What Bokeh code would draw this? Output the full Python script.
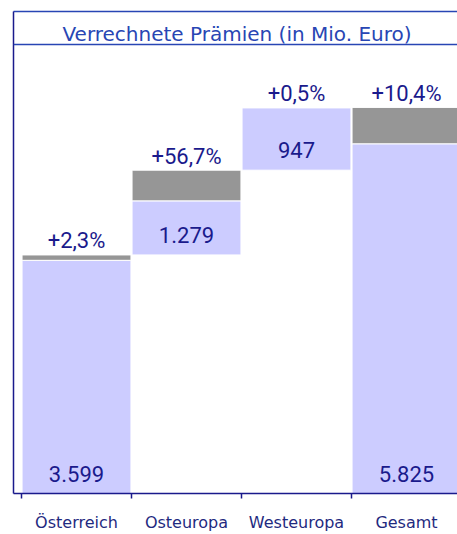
from bokeh.plotting import figure
from bokeh.models import (ColumnDataSource, Range1d, FixedTicker, LinearAxis,
                          Label, Span)
from bokeh.core.properties import value
from bokeh.embed import file_html
from bokeh.resources import INLINE

# ---- data ----
categories = ["Österreich", "Osteuropa", "Westeuropa", "Gesamt"]
current = [3599, 1279, 947, 5825]          # Mio. Euro, current year
prior = [3518, 816, 942, 5276]             # Mio. Euro, previous year
growth_labels = ["+2,3%", "+56,7%", "+0,5%", "+10,4%"]
title_text = "Verrechnete Prämien (in Mio. Euro)"

# ---- derived layout from data ----
n = len(categories)
xs = [i + 0.5 for i in range(n)]
bases = []
run = 0
for i, v in enumerate(current):
    if i == n - 1:
        bases.append(0)
    else:
        bases.append(run)
        run += v
blue_top = [b + p for b, p in zip(bases, prior)]
gray_top = [b + c for b, c in zip(bases, current)]
value_labels = [f"{v:,}".replace(",", ".") for v in current]

src = ColumnDataSource(dict(x=xs, base=bases, btop=blue_top, gtop=gray_top,
                            vlab=value_labels, glab=growth_labels))

BLUE_FILL = "#CCCCFF"
GRAY_FILL = "#969696"
NAVY = "#1a1a8c"
TITLE_BLUE = "#2846b4"
NUM_FONT = "Roboto"
NUM_SIZE = "22px"

px_per_unit = 110.0
frame_left, frame_top, frame_bottom = 13, 11, 500
W, H = 457, 534
frame_w, frame_h = W - frame_left, frame_bottom - frame_top
x_start = -8 / px_per_unit
x_end = x_start + frame_w / px_per_unit
y_end = 5825 * frame_h / 391.7

p = figure(width=W, height=H, output_backend="svg", toolbar_location=None,
           x_range=Range1d(x_start, x_end), y_range=Range1d(0, y_end),
           min_border_left=frame_left, min_border_right=0,
           min_border_top=frame_top, min_border_bottom=H - frame_bottom)
p.outline_line_color = None
p.grid.visible = False
p.background_fill_color = "white"
p.border_fill_color = "white"

# bars
p.vbar(x="x", bottom="base", top="btop", width=0.99, source=src,
       fill_color=BLUE_FILL, line_color="white", line_width=1)
p.vbar(x="x", bottom="btop", top="gtop", width=0.99, source=src,
       fill_color=GRAY_FILL, line_color="white", line_width=1)

# labels
p.text(x="x", y="base", text="vlab", source=src, text_align="center",
       text_baseline="alphabetic", y_offset=-20,
       text_font=value(NUM_FONT), text_font_size=NUM_SIZE,
       text_color=NAVY)
p.text(x="x", y="gtop", text="glab", source=src, text_align="center",
       text_baseline="alphabetic", y_offset=-14,
       text_font=value(NUM_FONT), text_font_size=NUM_SIZE,
       text_color=NAVY)

# axes
xa = p.xaxis[0]
xa.ticker = FixedTicker(ticks=xs, minor_ticks=list(range(n + 1)))
xa.major_label_overrides = {x: c for x, c in zip(xs, categories)}
xa.major_tick_out = 0
xa.major_tick_in = 0
xa.minor_tick_out = 5
xa.minor_tick_in = 0
xa.minor_tick_line_color = NAVY
xa.minor_tick_line_width = 1.5
xa.axis_line_color = NAVY
xa.axis_line_width = 1.5
xa.major_label_standoff = 14
xa.major_label_text_font = "DejaVu Sans"
xa.major_label_text_font_size = "16px"
xa.major_label_text_color = "#1f2a80"

ya = p.yaxis[0]
ya.ticker = FixedTicker(ticks=[])
ya.axis_line_color = NAVY
ya.axis_line_width = 1.5
ya.major_tick_out = 0
ya.major_tick_in = 0
ya.minor_tick_out = 0
ya.minor_tick_in = 0

top_ax = LinearAxis(ticker=FixedTicker(ticks=[]), axis_line_color=TITLE_BLUE,
                    axis_line_width=1.5, major_tick_out=0, major_tick_in=0,
                    minor_tick_out=0, minor_tick_in=0)
p.add_layout(top_ax, "above")

# title box: separator line under the title
title_line_y = (frame_bottom - 44.5) / frame_h * y_end
p.add_layout(Span(location=title_line_y, dimension="width",
                  line_color=TITLE_BLUE, line_width=1.5))
title_y = (frame_bottom - 34.3) / frame_h * y_end
p.add_layout(Label(x=(236.5 - 21) / px_per_unit, y=title_y, text=title_text,
                   text_align="center", text_baseline="alphabetic",
                   text_font="DejaVu Sans", text_font_size="20px",
                   text_color=TITLE_BLUE))

open("out.html", "w").write(file_html(p, INLINE))
